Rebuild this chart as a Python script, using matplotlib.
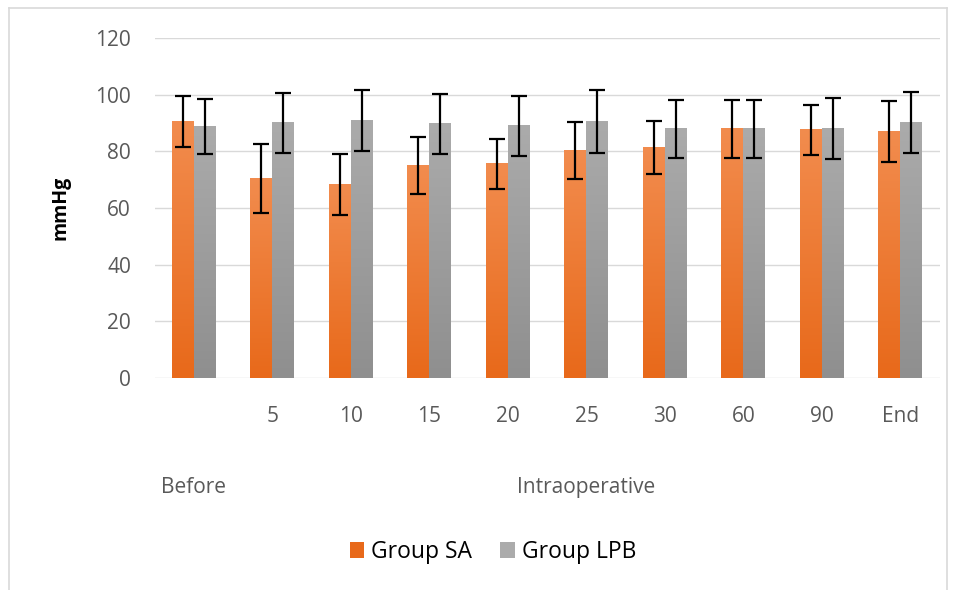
import numpy as np
import matplotlib.pyplot as plt
from matplotlib.colors import LinearSegmentedColormap
from matplotlib.lines import Line2D
from matplotlib.patches import Patch

plt.rcParams["font.family"] = ["Open Sans", "DejaVu Sans"]

categories = ["", "5", "10", "15", "20", "25", "30", "60", "90", "End"]
group_labels = ["Before", "Intraoperative"]
sa_mean = [90.5, 70.3, 68.3, 75.0, 75.6, 80.3, 81.3, 87.9, 87.6, 87.0]
sa_err = [9.1, 12.2, 10.7, 10.1, 8.8, 9.9, 9.4, 10.3, 8.9, 10.7]
lpb_mean = [88.8, 90.0, 90.9, 89.6, 89.1, 90.6, 88.0, 88.0, 88.0, 90.1]
lpb_err = [9.7, 10.6, 10.7, 10.5, 10.6, 11.1, 10.2, 10.2, 10.8, 10.7]

ORANGE_TOP = "#F28C4E"
ORANGE_BOT = "#E8691A"
GRAY_TOP = "#ABABAB"
GRAY_BOT = "#8F8F8F"
TICK_COLOR = "#595959"
GRID_COLOR = "#D9D9D9"
FS = 15

fig = plt.figure(figsize=(9.55, 5.9), dpi=100)
ax = fig.add_axes([0.162, 0.359, 0.822, 0.5766])

x = np.arange(len(categories))
w = 0.28

def gradient_bars(xs, heights, top, bot):
    cmap = LinearSegmentedColormap.from_list("g", [bot, top])
    grad = np.linspace(0, 1, 256).reshape(-1, 1)
    for xi, h in zip(xs, heights):
        ax.imshow(grad, cmap=cmap, origin="lower", aspect="auto",
                  extent=(xi - w / 2, xi + w / 2, 0, h), zorder=2)

gradient_bars(x - w / 2, sa_mean, ORANGE_TOP, ORANGE_BOT)
gradient_bars(x + w / 2, lpb_mean, GRAY_TOP, GRAY_BOT)

ax.errorbar(x - w / 2, sa_mean, yerr=sa_err, fmt="none", ecolor="black",
            elinewidth=1.6, capsize=5.5, capthick=1.6, zorder=4)
ax.errorbar(x + w / 2, lpb_mean, yerr=lpb_err, fmt="none", ecolor="black",
            elinewidth=1.6, capsize=5.5, capthick=1.6, zorder=4)

ax.set_xlim(-0.5, len(categories) - 0.5)
ax.set_ylim(0, 120)
ax.set_yticks(np.arange(0, 121, 20))
ax.yaxis.grid(True, color=GRID_COLOR, linewidth=1)
ax.set_axisbelow(True)
for s in ax.spines.values():
    s.set_visible(False)
ax.tick_params(axis="y", length=0, pad=17, labelsize=FS, labelcolor=TICK_COLOR)
ax.set_xticks(x)
ax.set_xticklabels(categories)
ax.tick_params(axis="x", length=0, pad=20, labelsize=FS, labelcolor=TICK_COLOR)

ax.set_ylabel("mmHg", fontsize=14, fontweight="bold", labelpad=18)

trans = ax.get_xaxis_transform()
ax.text(x[0], -0.32, group_labels[0], transform=trans, ha="center", va="center",
        fontsize=FS, color=TICK_COLOR)
ax.text((x[1] + x[-1]) / 2, -0.32, group_labels[1], transform=trans, ha="center",
        va="center", fontsize=FS, color=TICK_COLOR)

handles = [Patch(facecolor=ORANGE_BOT, edgecolor="none"),
           Patch(facecolor=GRAY_TOP, edgecolor="none")]
fig.legend(handles, ["Group SA", "Group LPB"], loc="center",
           bbox_to_anchor=(0.516, 1 - 552 / 590), ncol=2, frameon=False,
           fontsize=16.5, handlelength=0.65, handleheight=0.65, columnspacing=1.2,
           handletextpad=0.3)

for xs, ys in [([9, 9], [0, 582]), ([9, 947], [582, 582]), ([947, 947], [582, 0])]:
    fig.add_artist(Line2D([v / 955 for v in xs], [v / 590 for v in ys],
                          color=GRID_COLOR, linewidth=1.2))

fig.savefig("out.png", dpi=100)
